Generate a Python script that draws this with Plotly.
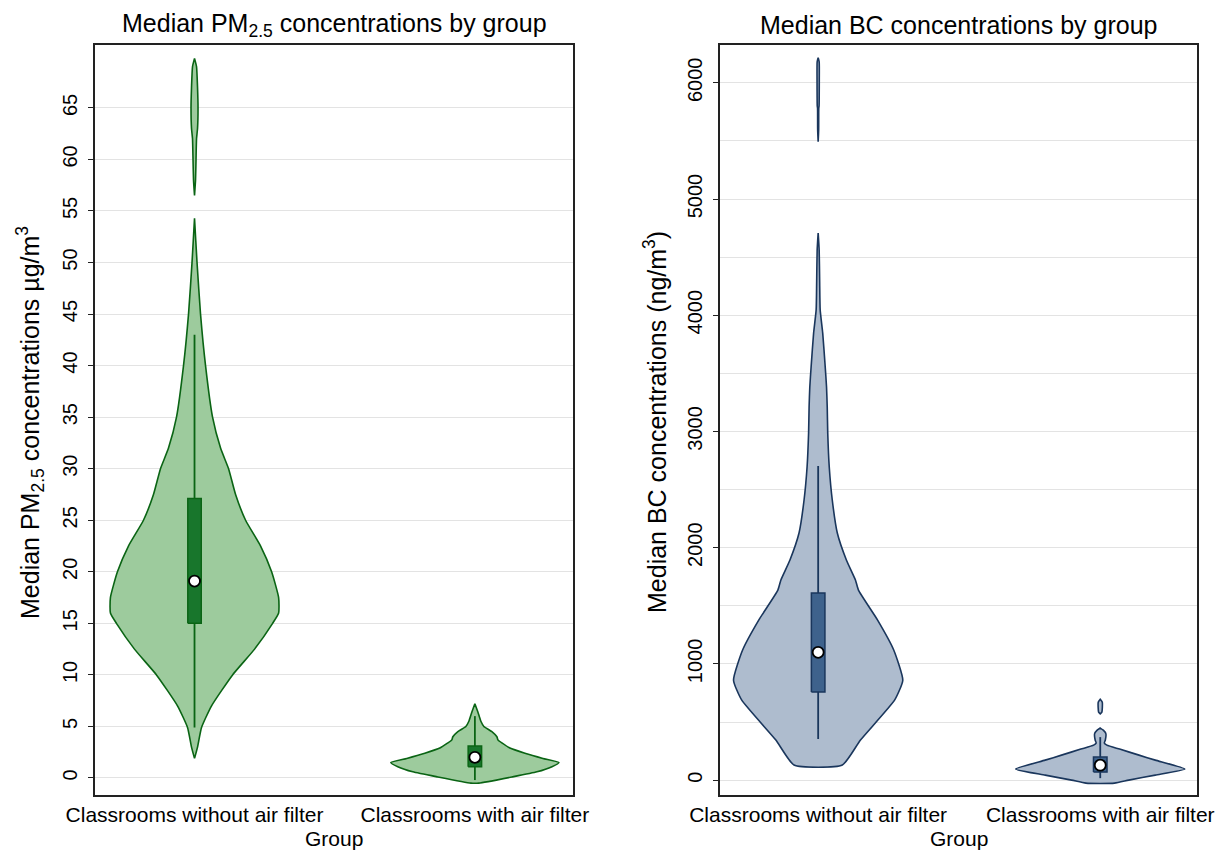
import plotly.graph_objects as go

# ---------------- data ----------------
groups = ["Classrooms without air filter", "Classrooms with air filter"]
group_pos = [1, 2]

# PM2.5 violin density profiles (relative density at each concentration level; None = gap)
pm_levels_without = [1.9, 3.0, 4.9, 7.0, 10.0, 12.5, 15.0, 16.0, 17.5, 20.0, 22.5, 25.0, 27.5,
                     30.0, 32.0, 35.0, 40.0, 45.0, 50.0, 54.3, None,
                     56.5, 58.0, 60.0, 62.0, 63.0, 65.0, 67.0, 69.0, 69.8]
pm_density_without = [0, 3, 7, 17, 38, 60, 78, 84, 84, 77, 66, 51, 41,
                      34, 26, 18, 11, 6, 2.5, 0, None,
                      0, 1, 1.5, 2, 3, 3.5, 3, 2, 0]
pm_levels_with = [-0.5, 0.1, 0.6, 1.1, 1.5, 1.9, 2.4, 2.9, 3.4, 3.7, 4.0, 4.5, 5.0, 5.5, 6.4, 7.2]
pm_density_with = [4, 37, 62, 77, 84, 68, 50, 35, 27, 23, 22, 17, 9, 6, 3, 0]

# BC violin density profiles
bc_levels_without = [130, 345, 690, 860, 1120, 1377, 1635, 1722, 1894, 2126, 2410, 2694, 2987,
                     3211, 3383, 3555, 3848, 4046, 4278, 4562, 4708, None,
                     5492, 5600, 5780, 5800, 6000, 6180, 6215]
bc_density_without = [24, 42, 76, 84, 75, 59, 40, 37, 28, 19, 14, 11, 9.5,
                      9, 8.3, 7, 4.5, 2, 1.5, 1, 0, None,
                      0, 0.5, 0.6, 0.9, 1.1, 1.0, 0]
bc_levels_with = [-26, 0, 43, 95, 172, 215, 267, 301, 320, 345, 400, 430, 448, None,
                  570, 585, 670, 695]
bc_density_with = [14, 28, 54, 83, 54, 38, 19, 6.5, 4, 5, 5.5, 3, 0, None,
                   0, 1.6, 2, 0]

# box statistics (without, with)
pm_q1 = [15.0, 1.1]
pm_median = [19.1, 2.0]
pm_q3 = [27.1, 3.1]
pm_lower = [4.9, -0.2]
pm_upper = [43.0, 6.0]

bc_q1 = [758, 69]
bc_median = [1100, 129]
bc_q3 = [1610, 198]
bc_lower = [353, 17]
bc_upper = [2703, 370]

pm_ticks = list(range(0, 70, 5))
bc_ticks = list(range(0, 7000, 1000))
bc_minor = list(range(500, 6500, 1000))

# ---------------- styling ----------------
FONT = "Liberation Sans, Arial, sans-serif"
HALF_WIDTH = 0.30
BOX_HALF = 0.024
OFF = 8                      # page body margin offset
W, H = 1223 - OFF, 850 - OFF

GREEN_FILL = "rgb(157,203,157)"
GREEN_LINE = "rgb(10,100,20)"
GREEN_BOX = "rgb(24,118,44)"
BLUE_FILL = "rgb(174,188,206)"
BLUE_LINE = "rgb(26,54,92)"
BLUE_BOX = "rgb(62,98,140)"


def violin_outline(center, levels, density):
    """Build closed polygon(s) from a density profile; None splits segments."""
    segs, cur = [], []
    for lv, d in zip(levels, density):
        if lv is None:
            if cur:
                segs.append(cur)
            cur = []
        else:
            cur.append((lv, d))
    if cur:
        segs.append(cur)
    peak = max(d for s in segs for _, d in s)
    xs, ys = [], []
    for s in segs:
        right = [(center + d / peak * HALF_WIDTH, lv) for lv, d in s]
        left = [(center - d / peak * HALF_WIDTH, lv) for lv, d in reversed(s)]
        pts = right + left + [right[0]]
        xs += [p[0] for p in pts] + [None]
        ys += [p[1] for p in pts] + [None]
    return xs, ys


fig = go.Figure()


def add_panel(xa, ya, profiles, q1, med, q3, lo, hi, fill, line, boxc):
    for pos, (lv, de) in zip(group_pos, profiles):
        xs, ys = violin_outline(pos, lv, de)
        fig.add_trace(go.Scatter(x=xs, y=ys, mode="lines", fill="toself",
                                 fillcolor=fill,
                                 line=dict(color=line, width=1.6, shape="spline", smoothing=0.5),
                                 xaxis=xa, yaxis=ya, hoverinfo="skip", showlegend=False))
    # whiskers
    for pos, a, b in zip(group_pos, lo, hi):
        fig.add_trace(go.Scatter(x=[pos, pos], y=[a, b], mode="lines",
                                 line=dict(color=line, width=1.8),
                                 xaxis=xa, yaxis=ya, hoverinfo="skip", showlegend=False))
    # boxes (interquartile range)
    for pos, a, b in zip(group_pos, q1, q3):
        fig.add_trace(go.Scatter(x=[pos - BOX_HALF, pos + BOX_HALF, pos + BOX_HALF,
                                    pos - BOX_HALF, pos - BOX_HALF],
                                 y=[a, a, b, b, a], mode="lines", fill="toself",
                                 fillcolor=boxc, line=dict(color=line, width=1.5),
                                 xaxis=xa, yaxis=ya, hoverinfo="skip", showlegend=False))
    # medians
    fig.add_trace(go.Scatter(x=group_pos, y=med, mode="markers",
                             marker=dict(symbol="circle", size=11, color="white",
                                         line=dict(color="black", width=1.8)),
                             xaxis=xa, yaxis=ya, hoverinfo="skip", showlegend=False))


add_panel("x", "y", [(pm_levels_without, pm_density_without), (pm_levels_with, pm_density_with)],
          pm_q1, pm_median, pm_q3, pm_lower, pm_upper, GREEN_FILL, GREEN_LINE, GREEN_BOX)
add_panel("x2", "y2", [(bc_levels_without, bc_density_without), (bc_levels_with, bc_density_with)],
          bc_q1, bc_median, bc_q3, bc_lower, bc_upper, BLUE_FILL, BLUE_LINE, BLUE_BOX)

# plot-area geometry in (screen) pixels
L1, R1 = 95, 573
L2, R2 = 720, 1197
TOP, BOT = 45, 795


def px_x(v):
    return (v - OFF) / W


def px_y(v):
    return (H - (v - OFF)) / H


xaxis_common = dict(tickmode="array", tickvals=group_pos, ticktext=groups, ticks="",
                    showgrid=False, zeroline=False, showline=True, mirror=True,
                    linecolor="#222", linewidth=1.5, automargin=False,
                    tickfont=dict(family=FONT, size=21, color="black"))
yaxis_common = dict(tickmode="array", ticks="outside", ticklen=5, tickcolor="#222",
                    tickangle=-90, showgrid=True, gridcolor="#e3e3e3", gridwidth=1,
                    zeroline=False, showline=True, mirror=True, linecolor="#222",
                    linewidth=1.5, tickfont=dict(family=FONT, size=20, color="black"),
                    ticklabelstandoff=3, automargin=False)

fig.update_layout(
    width=W, height=H, margin=dict(l=0, r=0, t=0, b=0, autoexpand=False),
    plot_bgcolor="white", paper_bgcolor="white",
    xaxis=dict(domain=[px_x(L1), px_x(R1)], range=[0.645, 2.35], anchor="y", **xaxis_common),
    yaxis=dict(domain=[px_y(BOT), px_y(TOP)], range=[-1.65, 71.1], anchor="x",
               tickvals=pm_ticks, **yaxis_common),
    xaxis2=dict(domain=[px_x(L2), px_x(R2)], range=[0.652, 2.343], anchor="y2", **xaxis_common),
    yaxis2=dict(domain=[px_y(BOT), px_y(TOP)], range=[-128, 6325], anchor="x2",
                tickvals=bc_ticks, minor=dict(tickvals=bc_minor, showgrid=True,
                                              gridcolor="#e3e3e3", ticks=""),
                **yaxis_common),
)

ann = []
tfont = dict(family=FONT, size=25, color="black")
ann.append(dict(text="Median PM<sub>2.5</sub> concentrations by group", x=px_x((L1 + R1) / 2),
                y=px_y(25), xref="paper", yref="paper", showarrow=False, font=tfont,
                xanchor="center", yanchor="middle"))
ann.append(dict(text="Median BC concentrations by group", x=px_x((L2 + R2) / 2),
                y=px_y(25), xref="paper", yref="paper", showarrow=False, font=tfont,
                xanchor="center", yanchor="middle"))
ann.append(dict(text="Median PM<sub>2.5</sub> concentrations µg/m<sup>3</sup>", x=px_x(30),
                y=px_y(423), xref="paper", yref="paper", showarrow=False, textangle=-90,
                font=tfont, xanchor="center", yanchor="middle"))
ann.append(dict(text="Median BC concentrations (ng/m<sup>3</sup>)", x=px_x(655),
                y=px_y(422), xref="paper", yref="paper", showarrow=False, textangle=-90,
                font=tfont, xanchor="center", yanchor="middle"))
gfont = dict(family=FONT, size=21, color="black")
ann.append(dict(text="Group", x=px_x((L1 + R1) / 2), y=px_y(838), xref="paper", yref="paper",
                showarrow=False, font=gfont, xanchor="center", yanchor="middle"))
ann.append(dict(text="Group", x=px_x((L2 + R2) / 2), y=px_y(838), xref="paper", yref="paper",
                showarrow=False, font=gfont, xanchor="center", yanchor="middle"))
fig.update_layout(annotations=ann)

fig.write_html("out.html")
